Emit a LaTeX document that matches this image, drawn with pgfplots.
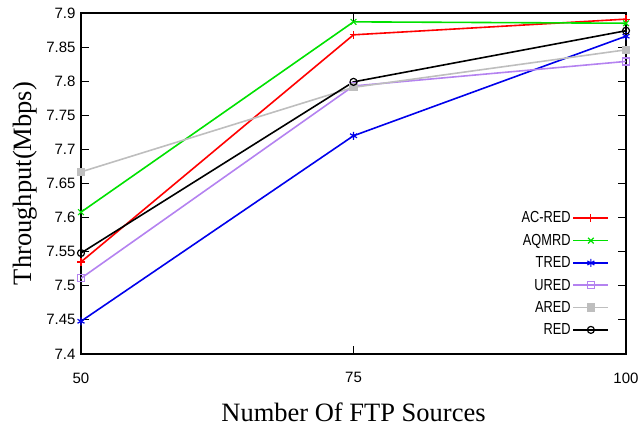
\documentclass[border=0pt]{standalone}
\usepackage{fontspec}
\setmainfont{Liberation Serif}
\newfontfamily\ticksf{Liberation Sans}
\newfontfamily\legsf[FakeStretch=0.8]{Liberation Sans}
\usepackage{pgfplots}
\pgfplotsset{compat=1.18}
\definecolor{cgreen}{RGB}{0,225,0}
\definecolor{cblue}{RGB}{0,0,235}
\definecolor{cured}{RGB}{180,130,240}
\definecolor{cared}{RGB}{190,190,190}
\begin{document}
\begin{tikzpicture}
\begin{axis}[name=ax,
  scale only axis, width=545pt, height=341pt,
  xmin=50, xmax=100, ymin=7.4, ymax=7.9,
  xtick={50,75,100}, ytick={7.4,7.45,...,7.91},
  yticklabels={7.4,7.45,7.5,7.55,7.6,7.65,7.7,7.75,7.8,7.85,7.9},
  tick align=inside, major tick length=8pt,
  tick style={black, line width=0.8pt},
  axis line style={line width=1.2pt},
  /pgf/number format/assume math mode=true,
  ticklabel style={font=\ticksf\fontsize{15}{18}\selectfont},
  xticklabel style={yshift=-15pt},
  yticklabel style={xshift=-2pt},
  xlabel={Number Of FTP Sources},
  ylabel={Throughput(Mbps)},
  label style={font=\fontsize{26.5}{30}\selectfont},
  xlabel style={at={(rel axis cs:0.5,-0.1994)}, anchor=base},
  ylabel style={at={(rel axis cs:-0.0917,0.5)}, anchor=base, rotate=0},
  legend style={draw=none, fill=none, at={(rel axis cs:0.975,0.04)}, anchor=south east,
    font=\legsf\fontsize{16}{18}\selectfont, row sep=5.8pt, cells={anchor=east}},
  legend cell align=right,
  legend plot pos=right,
  legend image code/.code={\draw[mark repeat=2,mark phase=2,#1] plot coordinates {(0pt,0pt) (17.5pt,0pt) (35pt,0pt)};},
  every axis plot/.append style={line width=1.6pt},
  mark options={solid, line width=1.2pt},
]
\addplot[red, mark=+, mark size=4pt] coordinates {(50,7.535) (75,7.868) (100,7.891)};
\addlegendentry{AC-RED}
\addplot[cgreen, mark=x, mark size=4pt] coordinates {(50,7.608) (75,7.887) (100,7.885)};
\addlegendentry{AQMRD}
\addplot[cblue, mark=asterisk, mark size=4pt] coordinates {(50,7.448) (75,7.720) (100,7.866)};
\addlegendentry{TRED}
\addplot[cured, mark=square, mark size=3.5pt] coordinates {(50,7.511) (75,7.793) (100,7.829)};
\addlegendentry{URED}
\addplot[cared, mark=square*, mark size=3.5pt] coordinates {(50,7.667) (75,7.791) (100,7.846)};
\addlegendentry{ARED}
\addplot[black, mark=o, mark size=3.5pt] coordinates {(50,7.548) (75,7.799) (100,7.874)};
\addlegendentry{RED}
\end{axis}
\pgfresetboundingbox
\path (ax.south west) ++(-81pt,-75pt) coordinate (bl);
\path (ax.north east) ++(12pt,13pt) coordinate (tr);
\path[use as bounding box] (bl) rectangle (tr);
\end{tikzpicture}
\end{document}
